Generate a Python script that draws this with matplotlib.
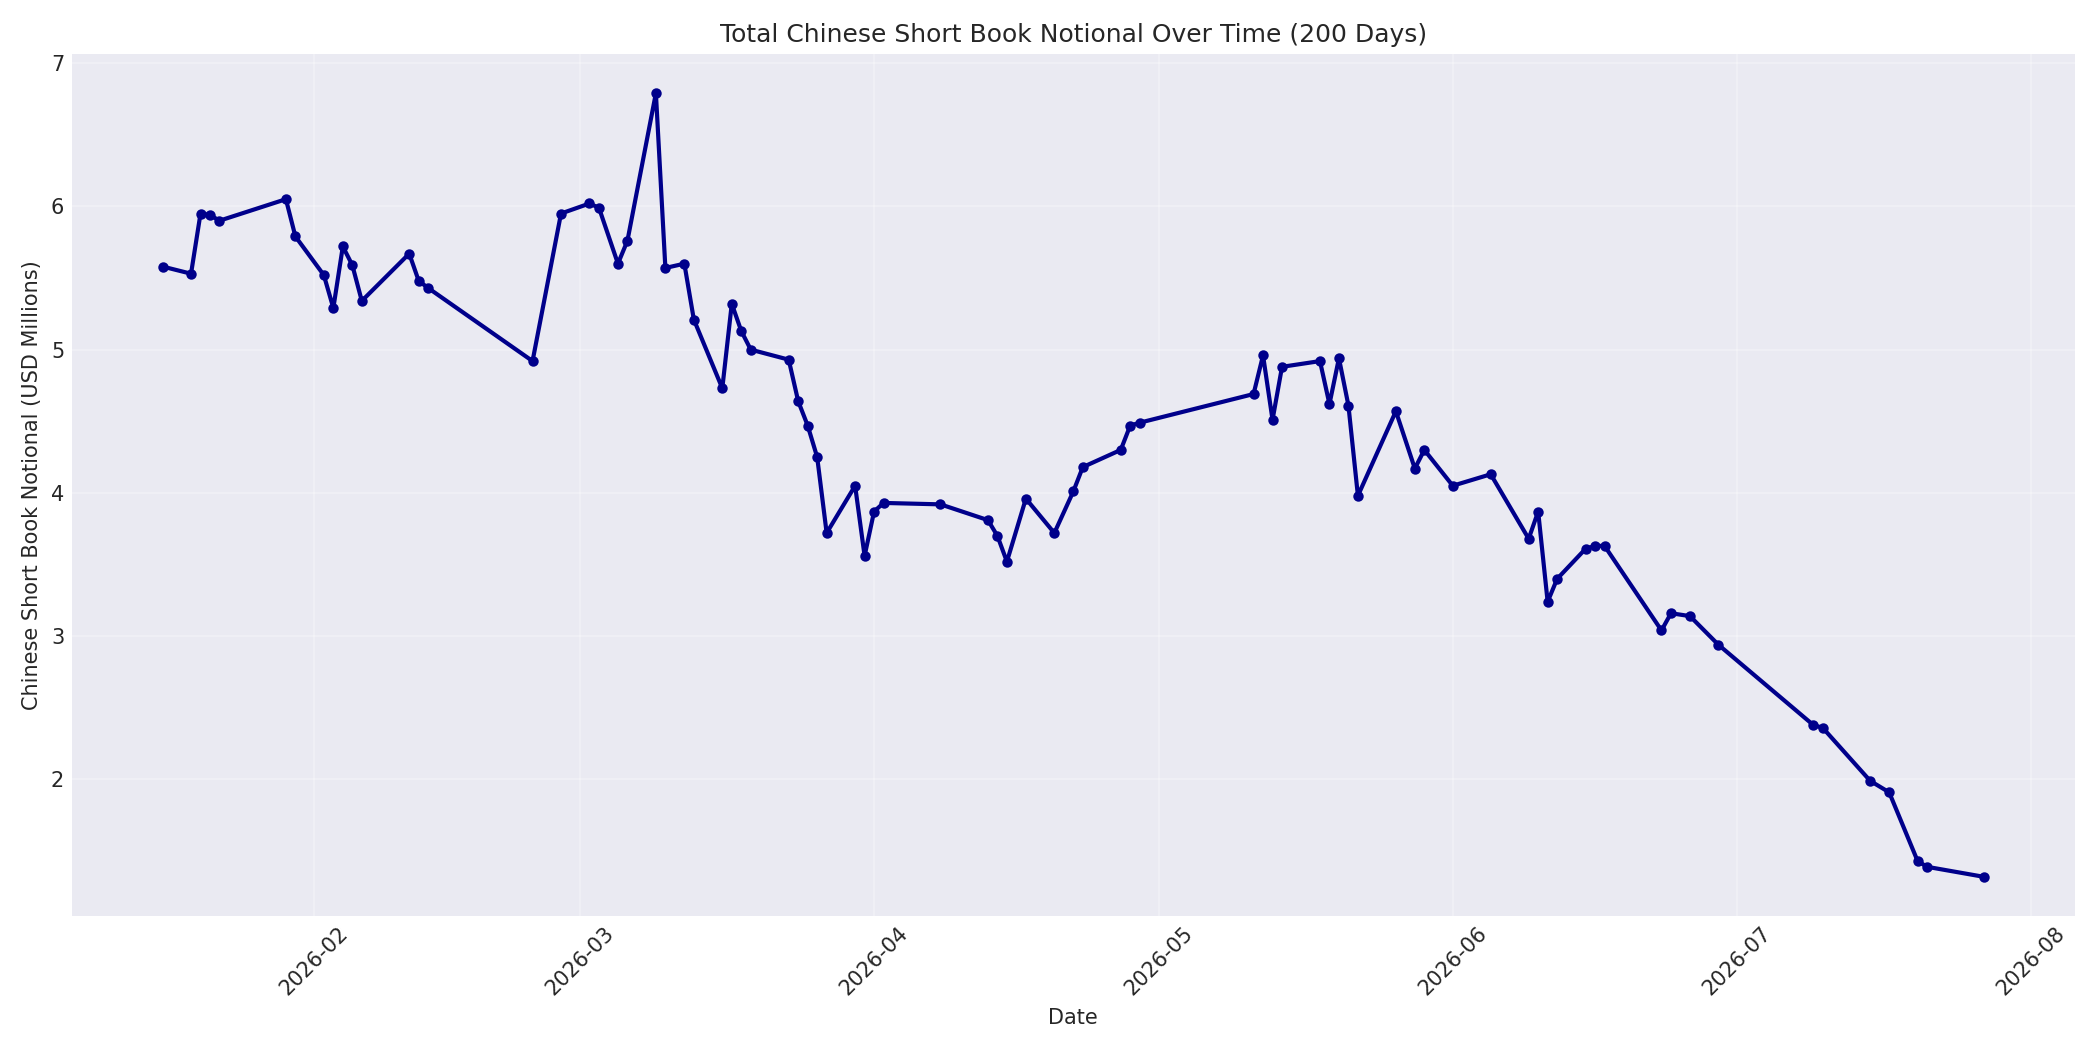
import matplotlib
matplotlib.use("Agg")
import matplotlib.pyplot as plt
import matplotlib.dates as mdates
import pandas as pd

dates = [
    "2026-01-16", "2026-01-19", "2026-01-20", "2026-01-21", "2026-01-22",
    "2026-01-29", "2026-01-30", "2026-02-02", "2026-02-03", "2026-02-04",
    "2026-02-05", "2026-02-06", "2026-02-11", "2026-02-12", "2026-02-13",
    "2026-02-24", "2026-02-27", "2026-03-02", "2026-03-03", "2026-03-05",
    "2026-03-06", "2026-03-09", "2026-03-10", "2026-03-12", "2026-03-13",
    "2026-03-16", "2026-03-17", "2026-03-18", "2026-03-19", "2026-03-23",
    "2026-03-24", "2026-03-25", "2026-03-26", "2026-03-27", "2026-03-30",
    "2026-03-31", "2026-04-01", "2026-04-02", "2026-04-08", "2026-04-13",
    "2026-04-14", "2026-04-15", "2026-04-17", "2026-04-20", "2026-04-22",
    "2026-04-23", "2026-04-27", "2026-04-28", "2026-04-29", "2026-05-11",
    "2026-05-12", "2026-05-13", "2026-05-14", "2026-05-18", "2026-05-19",
    "2026-05-20", "2026-05-21", "2026-05-22", "2026-05-26", "2026-05-28",
    "2026-05-29", "2026-06-01", "2026-06-05", "2026-06-09", "2026-06-10",
    "2026-06-11", "2026-06-12", "2026-06-15", "2026-06-16", "2026-06-17",
    "2026-06-23", "2026-06-24", "2026-06-26", "2026-06-29", "2026-07-09",
    "2026-07-10", "2026-07-15", "2026-07-17", "2026-07-20", "2026-07-21",
    "2026-07-27",
]
notional = [
    5.58, 5.53, 5.95, 5.94, 5.90,
    6.05, 5.79, 5.52, 5.29, 5.72,
    5.59, 5.34, 5.67, 5.48, 5.43,
    4.92, 5.95, 6.02, 5.99, 5.60,
    5.76, 6.79, 5.57, 5.60, 5.21,
    4.73, 5.32, 5.13, 5.00, 4.93,
    4.64, 4.47, 4.25, 3.72, 4.05,
    3.56, 3.87, 3.93, 3.92, 3.81,
    3.70, 3.52, 3.96, 3.72, 4.01,
    4.18, 4.30, 4.47, 4.49, 4.69,
    4.96, 4.51, 4.88, 4.92, 4.62,
    4.94, 4.61, 3.98, 4.57, 4.17,
    4.30, 4.05, 4.13, 3.68, 3.87,
    3.24, 3.40, 3.61, 3.63, 3.63,
    3.04, 3.16, 3.14, 2.94, 2.38,
    2.36, 1.99, 1.91, 1.43, 1.39,
    1.32,
]

plt.style.use("seaborn-v0_8-darkgrid")
plt.rcParams["font.family"] = ["DejaVu Sans"]
fig, ax = plt.subplots(figsize=(14, 7), dpi=150)
x = pd.to_datetime(dates)
ax.plot(x, notional, color="darkblue", linewidth=2, marker="o", markersize=4)
ax.set_title("Total Chinese Short Book Notional Over Time (200 Days)")
ax.set_xlabel("Date")
ax.set_ylabel("Chinese Short Book Notional (USD Millions)")
ax.xaxis.set_major_locator(mdates.MonthLocator())
ax.xaxis.set_major_formatter(mdates.DateFormatter("%Y-%m"))
ax.grid(True, alpha=0.3)
plt.setp(ax.get_xticklabels(), rotation=45)
fig.tight_layout()
fig.savefig("out.png", dpi=150)
